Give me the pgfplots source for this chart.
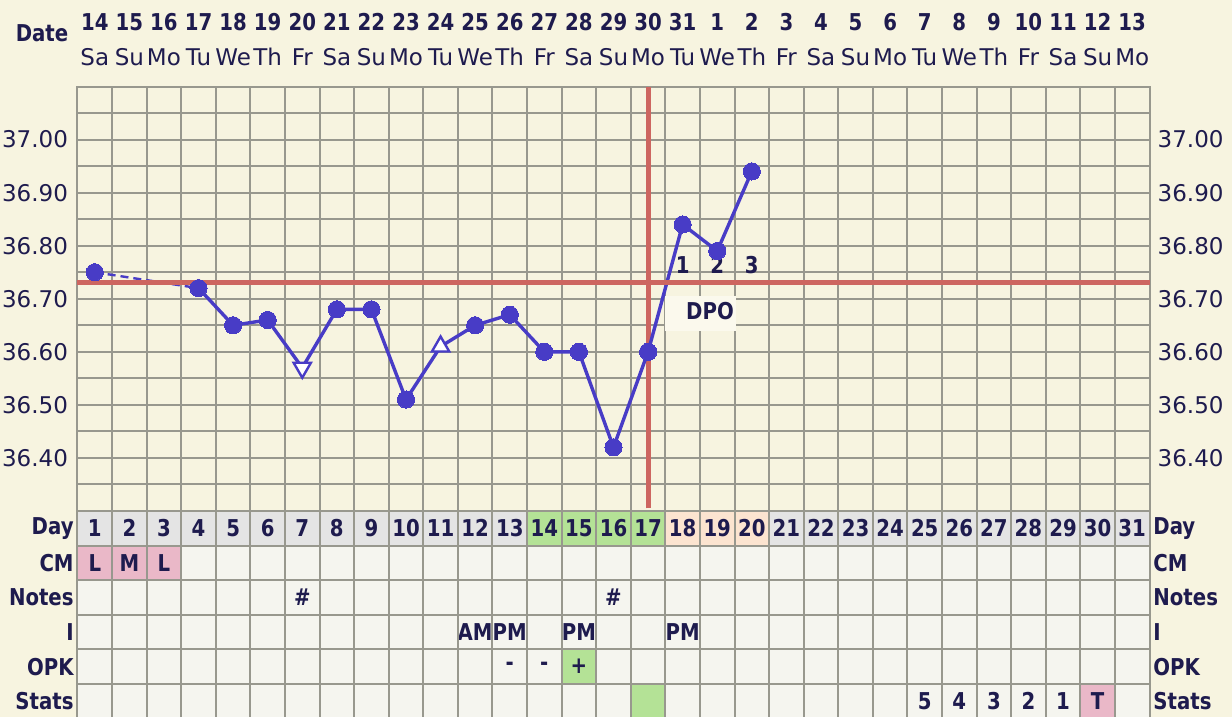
\documentclass[border=0pt]{standalone}
\usepackage{fontspec}
\setmainfont{DejaVu Sans}
\newfontfamily\condbold{DejaVu Sans}[FakeStretch=0.85]
\usepackage{pgfplots}
\pgfplotsset{compat=1.18}

\definecolor{paper}{RGB}{247,244,224}
\definecolor{cellbg}{RGB}{245,245,239}
\definecolor{dayrow}{RGB}{228,228,228}
\definecolor{gridc}{RGB}{152,152,142}
\definecolor{ink}{RGB}{30,27,78}
\definecolor{tempblue}{RGB}{72,60,198}
\definecolor{coverred}{RGB}{205,102,96}
\definecolor{fertgreen}{RGB}{180,226,150}
\definecolor{lutealpeach}{RGB}{252,228,208}
\definecolor{flowpink}{RGB}{234,184,200}
\definecolor{dpobox}{RGB}{251,249,237}

\tikzset{
  hb/.style={font=\condbold\bfseries\fontsize{11.6}{13}\selectfont, text=ink, inner sep=0pt},
  rg/.style={font=\fontsize{11.5}{13}\selectfont, text=ink, inner sep=0pt},
}

\begin{document}
\begin{tikzpicture}[x=1pt,y=1pt]
\fill[paper] (0,0) rectangle (616,358.5);
\path[use as bounding box] (0,0) rectangle (616,358.5);

% ---------------- temperature chart ----------------
\begin{axis}[
  at={(38.75pt,103pt)}, anchor=south west,
  scale only axis, width=536pt, height=212.25pt,
  xmin=0.5, xmax=31.5, ymin=36.30, ymax=37.10,
  xtick={1.5,2.5,...,30.5}, xticklabels={},
  ytick={36.35,36.40,...,37.05}, yticklabels={},
  major tick length=0pt,
  grid=major, grid style={gridc, line width=1pt},
  axis line style={gridc, line width=1pt},
  axis background/.style={fill=paper},
  clip=false,
]
% temperature labels on both sides
\pgfplotsinvokeforeach{36.40,36.50,36.60,36.70,36.80,36.90,37.00}{
  \node[rg, anchor=east, xshift=-4.6pt] at (axis cs:0.5,#1) {#1};
  \node[rg, anchor=west, xshift=3.9pt] at (axis cs:31.5,#1) {#1};
}
% date and weekday header
\foreach \d/\dt/\wd in {1/14/Sa,2/15/Su,3/16/Mo,4/17/Tu,5/18/We,6/19/Th,7/20/Fr,
  8/21/Sa,9/22/Su,10/23/Mo,11/24/Tu,12/25/We,13/26/Th,14/27/Fr,15/28/Sa,16/29/Su,
  17/30/Mo,18/31/Tu,19/1/We,20/2/Th,21/3/Fr,22/4/Sa,23/5/Su,24/6/Mo,25/7/Tu,
  26/8/We,27/9/Th,28/10/Fr,29/11/Sa,30/12/Su,31/13/Mo}{
  \edef\hdr{\noexpand\node[hb, yshift=32.25pt] at (axis cs:\d,37.10) {\dt};
    \noexpand\node[rg, yshift=14.75pt] at (axis cs:\d,37.10) {\wd};}
  \hdr
}
% ovulation day marker
\addplot[coverred, line width=2.5pt] coordinates {(17,36.305) (17,37.10)};
% DPO label box
\fill[dpobox] (axis cs:17.49,36.705) rectangle (axis cs:19.55,36.639);
\node[hb] at (axis cs:18.79,36.677) {DPO};
\node[hb] at (axis cs:18,36.764) {1};
\node[hb] at (axis cs:19,36.764) {2};
\node[hb] at (axis cs:20,36.764) {3};
% temperatures
\addplot[tempblue, line width=1.2pt, dash pattern=on 4pt off 2.5pt] coordinates {(1,36.75) (4,36.72)};
\addplot[tempblue, line width=1.7pt] table {
x y
4 36.72
5 36.65
6 36.66
7 36.57
8 36.68
9 36.68
10 36.51
11 36.61
12 36.65
13 36.67
14 36.60
15 36.60
16 36.42
17 36.60
18 36.84
19 36.79
20 36.94
};
\addplot[only marks, mark=*, mark size=4.3pt, mark options={fill=tempblue, draw=tempblue, line width=0pt}] table {
x y
1 36.75
4 36.72
5 36.65
6 36.66
8 36.68
9 36.68
10 36.51
12 36.65
13 36.67
14 36.60
15 36.60
16 36.42
17 36.60
18 36.84
19 36.79
20 36.94
};
\addplot[only marks, mark=triangle*, mark size=5pt, mark options={fill=white, draw=tempblue, line width=1.2pt, rotate=180}] coordinates {(7,36.57)};
\addplot[only marks, mark=triangle*, mark size=5pt, mark options={fill=white, draw=tempblue, line width=1.2pt}] coordinates {(11,36.61)};
% coverline
\addplot[coverred, line width=2.5pt] coordinates {(0.5,36.73) (31.5,36.73)};
\end{axis}

% ---------------- data table ----------------
\begin{axis}[
  at={(38.75pt,103pt)}, anchor=north west,
  scale only axis, width=536pt, height=103.8pt,
  xmin=0.5, xmax=31.5, ymin=0, ymax=6, y dir=reverse,
  xtick={1.5,2.5,...,30.5}, ytick={1,2,3,4,5},
  xticklabels={}, yticklabels={},
  major tick length=0pt,
  grid=major, grid style={gridc, line width=1pt},
  axis line style={gridc, line width=1pt},
  axis background/.style={fill=cellbg},
  axis on top, clip=false,
]
\fill[dayrow] (axis cs:0.5,0) rectangle (axis cs:31.5,1);
\fill[fertgreen] (axis cs:13.5,0) rectangle (axis cs:17.5,1);
\fill[lutealpeach] (axis cs:17.5,0) rectangle (axis cs:20.5,1);
\fill[flowpink] (axis cs:0.5,1) rectangle (axis cs:3.5,2);
\fill[fertgreen] (axis cs:14.5,4) rectangle (axis cs:15.5,5);
\fill[fertgreen] (axis cs:16.5,5) rectangle (axis cs:17.5,6);
\fill[flowpink] (axis cs:29.5,5) rectangle (axis cs:30.5,6);
\pgfplotsinvokeforeach{1,...,31}{
  \node[hb] at (axis cs:#1,0.5) {#1};
}
\foreach \c/\r/\t in {1/1.5/L,2/1.5/M,3/1.5/L,7/2.5/\#,16/2.5/\#,
  12/3.5/AM,13/3.5/PM,15/3.5/PM,18/3.5/PM,13/4.5/-,14/4.5/-,15/4.5/+,
  25/5.5/5,26/5.5/4,27/5.5/3,28/5.5/2,29/5.5/1,30/5.5/T}{
  \edef\cell{\noexpand\node[hb] at (axis cs:\c,\r) {\t};}
  \cell
}
\foreach \r/\t in {0.5/Day,1.5/CM,2.5/Notes,3.5/I,4.5/OPK,5.5/Stats}{
  \edef\lab{\noexpand\node[hb, anchor=east, xshift=-1.75pt] at (axis cs:0.5,\r) {\t};
    \noexpand\node[hb, anchor=west, xshift=1.75pt] at (axis cs:31.5,\r) {\t};}
  \lab
}
\end{axis}

\node[hb] at (21,342) {Date};
\end{tikzpicture}
\end{document}
